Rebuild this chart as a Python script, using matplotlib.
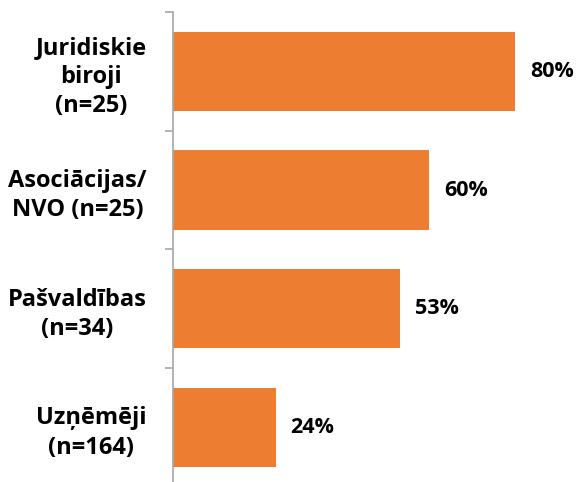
import matplotlib.pyplot as plt

plt.rcParams["font.family"] = ["Open Sans", "DejaVu Sans"]

categories = ["Juridiskie\nbiroji\n(n=25)", "Asociācijas/\nNVO (n=25)", "Pašvaldības\n(n=34)", "Uzņēmēji\n(n=164)"]
values = [80, 60, 53, 24]
value_labels = ["80%", "60%", "53%", "24%"]

BAR_COLOR = "#ED7D31"
AXIS_COLOR = "#A6A6A6"


def main():
    fig = plt.figure(figsize=(5.76, 4.82), dpi=100)
    # axes reaches slightly below the figure edge, as in the original
    ax = fig.add_axes([173 / 576, -0.0098, 1 - 173 / 576, 0.975 + 0.0098])

    y = list(range(len(categories)))
    ax.barh(y, values, height=0.667, color=BAR_COLOR)
    ax.set_ylim(len(categories) - 0.5, -0.5)
    ax.set_xlim(0, 94.27)

    for yi, v, lab in zip(y, values, value_labels):
        ax.annotate(lab, (v, yi), xytext=(15, 0), textcoords="offset pixels",
                    va="center", ha="left", fontsize=15.5, fontweight="bold")

    ax.set_yticks([i - 0.5 for i in range(len(categories) + 1)])
    ax.set_yticklabels([])
    ax.set_yticks(y, minor=True)
    ax.set_yticklabels(categories, minor=True, fontsize=17, fontweight="bold",
                       ha="right", multialignment="center", linespacing=1.3)
    ax.tick_params(axis="y", which="major", length=6, color=AXIS_COLOR, width=1.2)
    ax.tick_params(axis="y", which="minor", length=0, pad=19)

    ax.set_xticks([])
    for side in ["top", "right", "bottom"]:
        ax.spines[side].set_visible(False)
    ax.spines["left"].set_color(AXIS_COLOR)
    ax.spines["left"].set_linewidth(1.2)

    fig.savefig("out.png", dpi=100)
    return 0


if __name__ == "__main__":
    raise SystemExit(main())
